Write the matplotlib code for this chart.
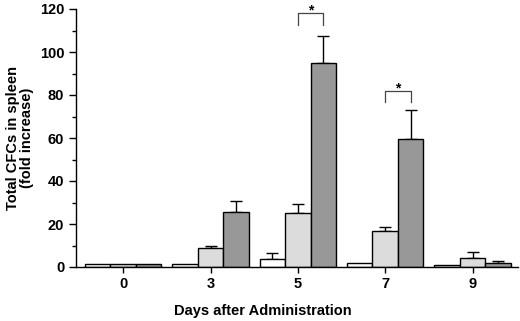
import matplotlib
matplotlib.use("Agg")
import matplotlib.pyplot as plt
import numpy as np

plt.rcParams['font.family'] = ['Liberation Sans', 'DejaVu Sans']
plt.rcParams['font.weight'] = 'bold'

days = ["0", "3", "5", "7", "9"]
white_vals = [1.3, 1.4, 3.9, 1.7, 1.0]
white_err = [0.0, 0.0, 2.5, 0.0, 0.0]
light_vals = [1.3, 9.0, 25.0, 16.9, 4.3]
light_err = [0.0, 0.6, 4.2, 1.8, 2.5]
dark_vals = [1.3, 25.4, 94.9, 59.4, 2.0]
dark_err = [0.0, 5.3, 12.7, 13.5, 0.6]

series = [(white_vals, white_err, "white"),
          (light_vals, light_err, "#dcdcdc"),
          (dark_vals, dark_err, "#989898")]

fig = plt.figure(figsize=(5.2, 3.21), dpi=100)
ax = fig.add_axes([76/520, 54/321, 442/520, 258/321])

x = np.arange(len(days))
w = 0.292
for i, (vals, errs, col) in enumerate(series):
    pos = x + (i - 1) * w
    ax.bar(pos, vals, width=w, color=col, edgecolor='black', linewidth=1.0, zorder=2)
    yerr = np.array([np.zeros(len(errs)), errs])
    mask = np.array(errs) > 0
    ax.errorbar(pos[mask], np.array(vals)[mask], yerr=yerr[:, mask], fmt='none',
                ecolor='black', elinewidth=1.0, capsize=4, capthick=1.0, zorder=1)

# significance brackets
for gi, ytop, ybot in [(2, 118.0, 112.6), (3, 82.0, 76.8)]:
    x1 = gi
    x2 = gi + w
    ax.plot([x1, x1, x2, x2], [ybot, ytop, ytop, ybot],
            color='#444444', lw=0.9, clip_on=False)
    ax.text((x1 + x2) / 2, ytop + 1.2, "*", ha='center', va='center',
            fontsize=10, fontweight='bold', clip_on=False)

ax.set_xlim(-0.54, 4.52)
ax.set_ylim(0, 120)
ax.set_yticks(np.arange(0, 121, 20))
ax.set_yticks(np.arange(10, 120, 20), minor=True)
ax.set_xticks(x)
ax.set_xticklabels(days)
ax.tick_params(axis='both', labelsize=10.5, direction='out', width=1.0)
ax.tick_params(axis='y', which='major', length=5)
ax.tick_params(axis='y', which='minor', length=3, width=1.0)
ax.tick_params(axis='x', length=4, pad=3)
for lab in ax.get_xticklabels() + ax.get_yticklabels():
    lab.set_fontweight('bold')

ax.spines['top'].set_visible(False)
ax.spines['right'].set_visible(False)
ax.spines['left'].set_linewidth(1.0)
ax.spines['bottom'].set_linewidth(1.0)

ax.set_ylabel("Total CFCs in spleen\n(fold increase)", fontsize=10.5,
              fontweight='bold', labelpad=4, linespacing=1.0)
fig.text(263/520, 1 - 311/321, "Days after Administration", ha='center', va='center',
         fontsize=10.5, fontweight='bold')

fig.savefig("out.png", dpi=100)
